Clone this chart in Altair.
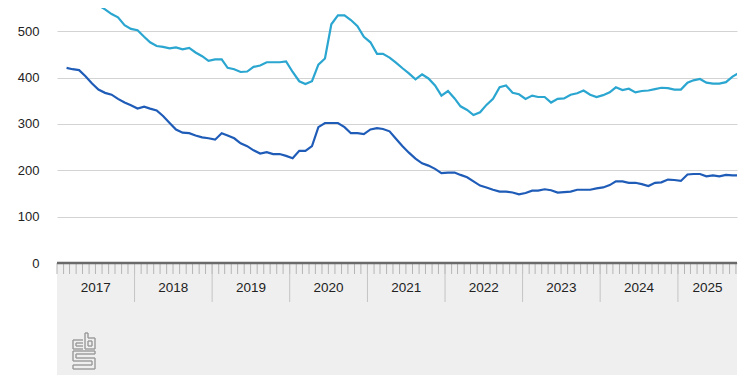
import altair as alt
import pandas as pd

# ---- data (monthly, Jan 2017 .. Sep 2025) ----
dark_values = [421, 418, 416, 403, 387, 374, 367, 363, 354, 346, 340, 333,
               337, 333, 329, 317, 302, 288, 281, 280, 275, 271, 269, 266,
               280, 275, 269, 258, 252, 243, 236, 239, 235, 235, 231, 226,
               242, 242, 252, 293, 302, 302, 302, 293, 280, 280, 278, 288,
               291, 289, 284, 268, 252, 238, 225, 215, 210, 203, 194, 195,
               195, 190, 185, 176, 167, 163, 158, 154, 154, 152, 148, 151,
               156, 156, 159, 157, 152, 153, 154, 158, 158, 158, 161, 163,
               168, 176, 176, 173, 173, 170, 166, 173, 174, 180, 179, 177,
               191, 192, 192, 187, 189, 187, 190, 189, 189]
light_values = [585, 578, 571, 565, 565, 556, 547, 537, 530, 513, 505, 502,
                488, 476, 468, 466, 463, 465, 461, 464, 454, 446, 436, 439,
                439, 421, 418, 412, 413, 423, 426, 433, 433, 433, 435, 412,
                392, 386, 392, 428, 441, 515, 534, 534, 524, 511, 488, 476,
                451, 451, 443, 432, 420, 409, 396, 407, 398, 383, 361, 371,
                355, 338, 330, 319, 325, 341, 354, 379, 383, 367, 364, 354,
                361, 358, 358, 346, 354, 355, 363, 366, 372, 363, 358, 362,
                368, 379, 373, 376, 368, 371, 372, 375, 378, 377, 374, 374,
                389, 394, 397, 389, 387, 387, 390, 402, 410]
years = ["2017", "2018", "2019", "2020", "2021", "2022", "2023", "2024", "2025"]

X_START = "2017-01-01"
X_END = "2025-10-06"

months = pd.date_range("2017-01-15", periods=len(dark_values), freq="MS") + pd.Timedelta(days=14)
df = pd.concat([
    pd.DataFrame({"date": months, "value": dark_values, "series": "a"}),
    pd.DataFrame({"date": months, "value": light_values, "series": "b"}),
])

month_starts = pd.DataFrame({"date": pd.date_range(X_START, "2025-10-01", freq="MS")})
year_starts = pd.DataFrame({"date": pd.to_datetime([f"{y}-01-01" for y in years[1:]])})
label_pos = []
for y in years:
    s = pd.Timestamp(f"{y}-01-01")
    e = min(pd.Timestamp(f"{int(y)+1}-01-01"), pd.Timestamp(X_END))
    label_pos.append(s + (e - s) / 2)
year_labels = pd.DataFrame({"date": label_pos, "label": years})

W, H = 680, 255
FONT = "Liberation Sans"

xscale = alt.Scale(domain=[X_START, X_END])
yscale = alt.Scale(domain=[0, 550], nice=False)

bg = alt.Chart(pd.DataFrame({"a": [0]})).mark_rect(color="#efefef", clip=False).encode(
    x=alt.value(0), x2=alt.value(W), y=alt.value(H), y2=alt.value(H + 120)
)

lines = alt.Chart(df).mark_line(strokeWidth=2.2, clip=True).encode(
    x=alt.X("date:T", scale=xscale, axis=None),
    y=alt.Y("value:Q", scale=yscale,
            axis=alt.Axis(values=[0, 100, 200, 300, 400, 500], grid=True, gridColor="#d3d3d3",
                          gridWidth=1, domain=False, ticks=False, labelPadding=18,
                          labelFontSize=13, labelColor="#222", labelFont=FONT, title=None)),
    color=alt.Color("series:N", scale=alt.Scale(domain=["a", "b"], range=["#1f5cb8", "#2aa6d0"]),
                    legend=None),
)

minor = alt.Chart(month_starts).mark_rule(color="#b5b5b5", strokeWidth=1, clip=False).encode(
    x=alt.X("date:T", scale=xscale, axis=None), y=alt.value(H), y2=alt.value(H + 11)
)
major = alt.Chart(year_starts).mark_rule(color="#c4c4c4", strokeWidth=1, clip=False).encode(
    x=alt.X("date:T", scale=xscale, axis=None), y=alt.value(H), y2=alt.value(H + 39)
)
domain_line = alt.Chart(pd.DataFrame({"a": [0]})).mark_rule(color="#6a6a6a", strokeWidth=2.5, clip=False).encode(
    x=alt.value(0), x2=alt.value(W), y=alt.value(H), y2=alt.value(H)
)
labels = alt.Chart(year_labels).mark_text(font=FONT, fontSize=13.5, color="#222", baseline="middle",
                                          align="center", clip=False).encode(
    x=alt.X("date:T", scale=xscale, axis=None), y=alt.value(H + 24.5), text="label:N"
)

# CBS logo (decorative strokes, pixel coordinates relative to plot origin)
OX, OY = 57, 8
logo_segments = [
    (73, 340, 83, 340), (73, 340, 73, 349), (73, 349, 83, 349),
    (76, 343, 83, 343), (76, 343, 76, 346), (76, 346, 83, 346),
    (85, 333, 85, 349), (85, 349, 95, 349), (95, 338, 95, 349), (88, 338, 95, 338),
    (88, 333, 88, 338), (85, 333, 88, 333),
    (88, 341, 92, 341), (88, 346, 92, 346), (88, 341, 88, 346), (92, 341, 92, 346),
    (73, 351, 95, 351), (76, 354, 95, 354), (73, 351, 73, 361), (76, 354, 76, 358),
    (76, 358, 95, 358), (73, 361, 92, 361), (95, 358, 95, 369), (92, 361, 92, 365),
    (73, 365, 92, 365), (73, 369, 95, 369), (73, 365, 73, 369), (95, 351, 95, 354),
]
logo_df = pd.DataFrame([{"x": a - OX, "y": b - OY, "x2": c - OX, "y2": d - OY}
                        for a, b, c, d in logo_segments])
logo = alt.Chart(logo_df).mark_rule(color="#9a9a9a", strokeWidth=1.4, clip=False).encode(
    x=alt.X("x:Q", scale=None), y=alt.Y("y:Q", scale=None),
    x2="x2:Q", y2="y2:Q"
)

chart = alt.layer(bg, minor, major, domain_line, labels, logo, lines).properties(
    width=W, height=H,
    autosize=alt.AutoSizeParams(type="none"),
    padding={"left": 49, "top": 0, "right": 4, "bottom": 112},
).configure(font=FONT).configure_view(stroke=None, strokeWidth=0)

chart.save("out.html", embed_options={"renderer": "svg", "actions": False})
